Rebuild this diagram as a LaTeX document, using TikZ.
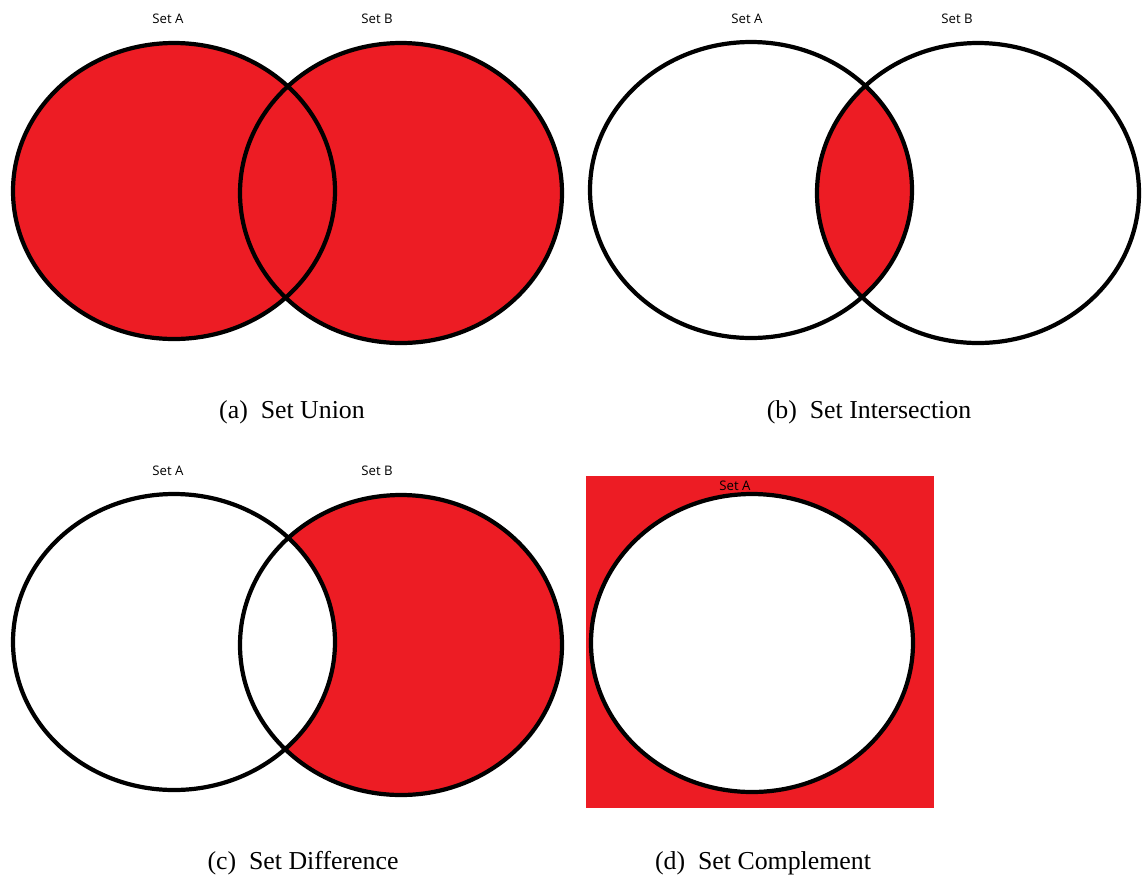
\documentclass[tikz,border=0pt]{standalone}
\usepackage{fontspec}
\setmainfont{Liberation Serif}
\newfontfamily\labelfont{Open Sans}
\usepackage{tikz}

\definecolor{setred}{RGB}{237,28,36}

\tikzset{
	setline/.style={draw=black, line width=2.4pt},
	setlabel/.style={font=\labelfont\fontsize{7.5}{9}\selectfont, inner sep=1pt},
	subcap/.style={font=\fontsize{14.7}{17}\selectfont, inner sep=1pt}
}

\begin{document}
\begin{tikzpicture}[x=0.02cm, y=-0.02cm]
		\useasboundingbox (0,0) rectangle (1144,877);
		% (a) union
		\fill[setred] (174,191) ellipse [x radius=161, y radius=148];
		\fill[setred] (401,193) ellipse [x radius=161, y radius=150];
		\draw[setline] (174,191) ellipse [x radius=161, y radius=148];
		\draw[setline] (401,193) ellipse [x radius=161, y radius=150];
		\node[setlabel] (uA) at (168,19) {Set A};
		\node[setlabel] (uB) at (377,19) {Set B};
		\node[subcap] (capA) at (292,412) {(a)\enspace Set Union};
		% (b) intersection
		\begin{scope}
			\clip (751,190) ellipse [x radius=161, y radius=148];
			\fill[setred] (978,193) ellipse [x radius=161, y radius=150];
		\end{scope}
		\draw[setline] (751,190) ellipse [x radius=161, y radius=148];
		\draw[setline] (978,193) ellipse [x radius=161, y radius=150];
		\node[setlabel] (iA) at (747,19) {Set A};
		\node[setlabel] (iB) at (957,19) {Set B};
		\node[subcap] (capB) at (869,412) {(b)\enspace Set Intersection};
		% (c) difference
		\fill[setred] (401,645) ellipse [x radius=161, y radius=150];
		\begin{scope}
			\clip (174,642) ellipse [x radius=161, y radius=148];
			\fill[white] (401,645) ellipse [x radius=161, y radius=150];
		\end{scope}
		\draw[setline] (174,642) ellipse [x radius=161, y radius=148];
		\draw[setline] (401,645) ellipse [x radius=161, y radius=150];
		\node[setlabel] (dA) at (168,471) {Set A};
		\node[setlabel] (dB) at (377,471) {Set B};
		\node[subcap] (capC) at (303,863) {(c)\enspace Set Difference};
		% (d) complement
		\fill[setred] (586,476) rectangle (934,808);
		\fill[white] (752,643) ellipse [x radius=161, y radius=149];
		\draw[setline] (752,643) ellipse [x radius=161, y radius=149];
		\node[setlabel] (cA) at (735,486) {Set A};
		\node[subcap] (capD) at (763,863) {(d)\enspace Set Complement};
	\end{tikzpicture}
\end{document}
